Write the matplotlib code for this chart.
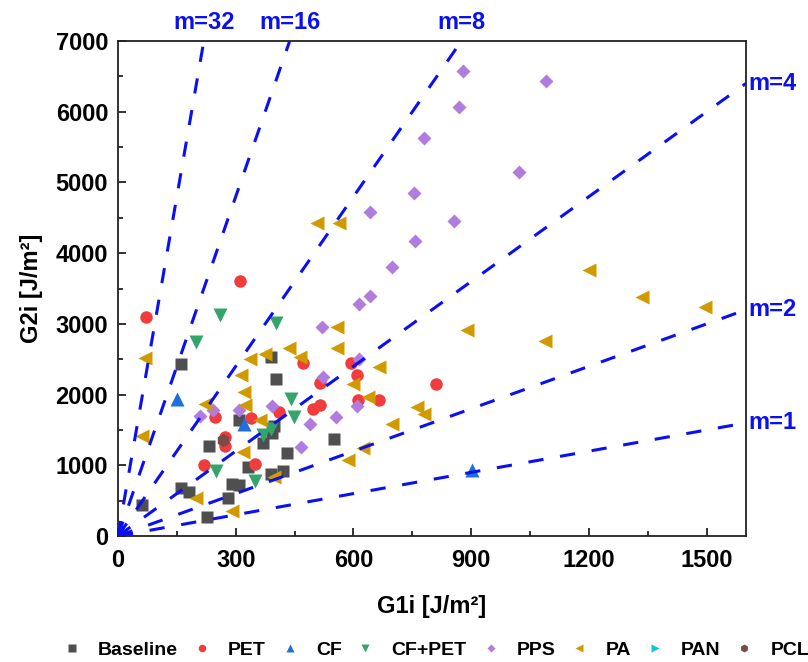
import matplotlib
matplotlib.use("Agg")
import matplotlib.pyplot as plt
from matplotlib.lines import Line2D
from matplotlib.ticker import MultipleLocator

plt.rcParams["font.family"] = ["Liberation Sans", "DejaVu Sans"]
plt.rcParams["font.weight"] = "bold"

# ---- data: G1i / G2i fracture energies [J/m^2] per interleave type ----
baseline_g1 = [60, 161, 160, 181, 226, 233, 281, 290, 309, 331, 369, 390, 421, 431,
               393, 397, 309, 390, 402, 551]
baseline_g2 = [438, 2432, 674, 622, 262, 1273, 538, 740, 716, 980, 1320, 873, 914, 1170,
               1452, 1563, 1636, 2525, 2216, 1372]

pet_g1 = [71, 311, 218, 247, 272, 273, 349, 339, 411, 471, 497, 515, 515, 595, 610, 611,
          666, 811]
pet_g2 = [3093, 3611, 1004, 1679, 1404, 1273, 1023, 1676, 1751, 2453, 1799, 1853, 2163,
          2446, 2277, 1928, 1923, 2155]

cf_g1 = [151, 320, 901]
cf_g2 = [1933, 1580, 940]

cfpet_g1 = [261, 200, 402, 250, 349, 370, 390, 441, 449]
cfpet_g2 = [3125, 2748, 3010, 914, 785, 1428, 1511, 1943, 1683]

pps_g1 = [880, 1091, 870, 781, 1021, 755, 642, 855, 757, 698, 641, 615, 521, 613, 523,
          608, 556, 488, 467, 393, 209, 243, 309]
pps_g2 = [6580, 6439, 6062, 5624, 5143, 4846, 4578, 4454, 4176, 3800, 3398, 3286, 2951,
          2501, 2244, 1833, 1687, 1589, 1258, 1838, 1699, 1778, 1782]

pa_g1 = [506, 563, 1199, 1335, 1496, 889, 1088, 557, 557, 437, 375, 336, 464, 664, 600,
         638, 761, 781, 699, 624, 587, 69, 60, 222, 324, 313, 322, 362, 319, 398, 199, 291]
pa_g2 = [4431, 4431, 3757, 3384, 3243, 2910, 2758, 2960, 2654, 2652, 2572, 2506, 2532,
         2394, 2155, 1970, 1820, 1721, 1584, 1240, 1075, 2513, 1409, 1865, 1853, 2284,
         2030, 1645, 1188, 839, 538, 351]

pan_g1 = []
pan_g2 = []

pcl_g1 = [268]
pcl_g2 = [1357]

# mode-mixity reference lines G2 = m * G1
slopes = [1, 2, 4, 8, 16, 32]

series = [
    ("Baseline", baseline_g1, baseline_g2, "s", "#4f4f4f", 8.5),
    ("PET", pet_g1, pet_g2, "o", "#f03c3c", 9.0),
    ("CF", cf_g1, cf_g2, "^", "#1f6fdc", 10.5),
    ("CF+PET", cfpet_g1, cfpet_g2, "v", "#35a46a", 10.5),
    ("PPS", pps_g1, pps_g2, "D", "#b07ddf", 7.5),
    ("PA", pa_g1, pa_g2, "<", "#d19b00", 10.5),
    ("PAN", pan_g1, pan_g2, ">", "#10c4d4", 10.5),
    ("PCL", pcl_g1, pcl_g2, "h", "#7b4b47", 9.5),
]

XMAX, YMAX = 1600, 7000
FS = 17
LINE_BLUE = "#0a10f0"

fig = plt.figure(figsize=(8.08, 6.62), dpi=100)
ax = fig.add_axes([0.1460, 0.1903, 0.7772, 0.7477])

for name, xs, ys, mk, col, ms in series:
    ax.plot(xs, ys, ls="none", marker=mk, ms=ms, color=col, mec="none", zorder=2)

for m in slopes:
    x_end = min(XMAX, YMAX / m)
    ax.plot([0, x_end], [0, m * x_end], color=LINE_BLUE, lw=2.2,
            ls=(0, (5.0, 5.5)), zorder=3, clip_on=True)
    if m * XMAX > YMAX:
        ax.annotate(f"m={m}", xy=(x_end, YMAX), xytext=(0, 13.5),
                    textcoords="offset points", ha="center", va="center",
                    color=LINE_BLUE, fontsize=FS, fontweight="bold",
                    annotation_clip=False)
    else:
        ax.annotate(f"m={m}", xy=(XMAX, m * XMAX), xytext=(1.5, 0),
                    textcoords="offset points", ha="left", va="center",
                    color=LINE_BLUE, fontsize=FS, fontweight="bold",
                    annotation_clip=False)

ax.set_xlim(0, XMAX)
ax.set_ylim(0, YMAX)
ax.xaxis.set_major_locator(MultipleLocator(300))
ax.xaxis.set_minor_locator(MultipleLocator(150))
ax.yaxis.set_major_locator(MultipleLocator(1000))
ax.yaxis.set_minor_locator(MultipleLocator(500))
ax.tick_params(which="both", direction="in", top=False, right=False,
               labelsize=FS, width=1.3, color="#222222")
ax.tick_params(which="major", length=6)
ax.tick_params(which="minor", length=3.5)
ax.tick_params(axis="x", pad=9)
ax.tick_params(axis="y", pad=7)
for lab in ax.get_xticklabels() + ax.get_yticklabels():
    lab.set_fontweight("bold")
for sp in ax.spines.values():
    sp.set_linewidth(1.3)
    sp.set_color("#222222")

ax.set_xlabel("G1i [J/m²]", fontsize=FS, fontweight="bold", labelpad=17)
ax.set_ylabel("G2i [J/m²]", fontsize=FS, fontweight="bold", labelpad=9)

handles = [Line2D([], [], ls="none", marker=mk, color=col, mec="none", ms=ms * 0.6)
           for name, xs, ys, mk, col, ms in series]
labels = [s[0] for s in series]
fig.legend(handles, labels, loc="center left", bbox_to_anchor=(64 / 808, 0.018),
           ncol=8, frameon=False, handlelength=0.8, handletextpad=0.95,
           columnspacing=0.82, borderpad=0, borderaxespad=0,
           prop={"weight": "bold", "size": 14})

fig.savefig("out.png", dpi=100)
